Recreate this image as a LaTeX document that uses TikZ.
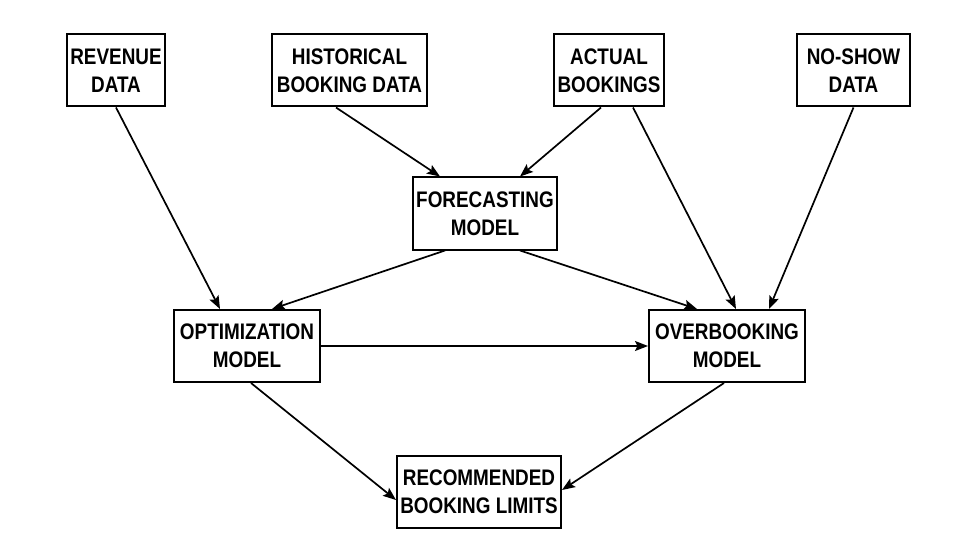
\documentclass[tikz,border=0pt]{standalone}
\usepackage{fontspec}
\newfontfamily\boxfont{Liberation Sans}[FakeStretch=0.84]
\usetikzlibrary{arrows.meta}
\begin{document}
\begin{tikzpicture}[x=1pt,y=-1pt,
  box/.style={draw,line width=2pt,inner sep=0pt,align=center,
    font=\boxfont\bfseries\fontsize{22.5}{28}\selectfont,minimum height=72pt},
  arr/.style={line width=1.7pt,-{Stealth[length=13pt,width=10pt,inset=2.5pt]}}]
\useasboundingbox (0,0) rectangle (960,556);
\node[box,minimum width=98pt]  (rev) at (116,70.5) {REVENUE\\DATA};
\node[box,minimum width=155pt] (his) at (349.5,70.5) {HISTORICAL\\BOOKING DATA};
\node[box,minimum width=110pt] (act) at (609,70.5) {ACTUAL\\BOOKINGS};
\node[box,minimum width=113pt] (nos) at (853.5,70.5) {NO-SHOW\\DATA};
\node[box,minimum width=144pt] (fc)  at (485,213.5) {FORECASTING\\MODEL};
\node[box,minimum width=146pt] (opt) at (247,346) {OPTIMIZATION\\MODEL};
\node[box,minimum width=156pt] (ob)  at (727,346) {OVERBOOKING\\MODEL};
\node[box,minimum width=164pt] (rec) at (479,492) {RECOMMENDED\\BOOKING LIMITS};
\draw[arr] (rev.south) -- ([xshift=-27pt]opt.north);
\draw[arr] ([xshift=-13.5pt]his.south) -- ([xshift=-45pt]fc.north);
\draw[arr] ([xshift=-8pt]act.south) -- ([xshift=35pt]fc.north);
\draw[arr] ([xshift=-40pt]fc.south) -- ([xshift=25pt]opt.north);
\draw[arr] ([xshift=35pt]fc.south) -- ([xshift=-30pt]ob.north);
\draw[arr] ([xshift=24pt]act.south) -- ([xshift=9pt]ob.north);
\draw[arr] (nos.south) -- ([xshift=42pt]ob.north);
\draw[arr] (opt.east) -- (ob.west);
\draw[arr] ([xshift=4pt]opt.south) -- ([yshift=-8pt]rec.west);
\draw[arr] ([xshift=-3pt]ob.south) -- ([yshift=2pt]rec.east);
\end{tikzpicture}
\end{document}
